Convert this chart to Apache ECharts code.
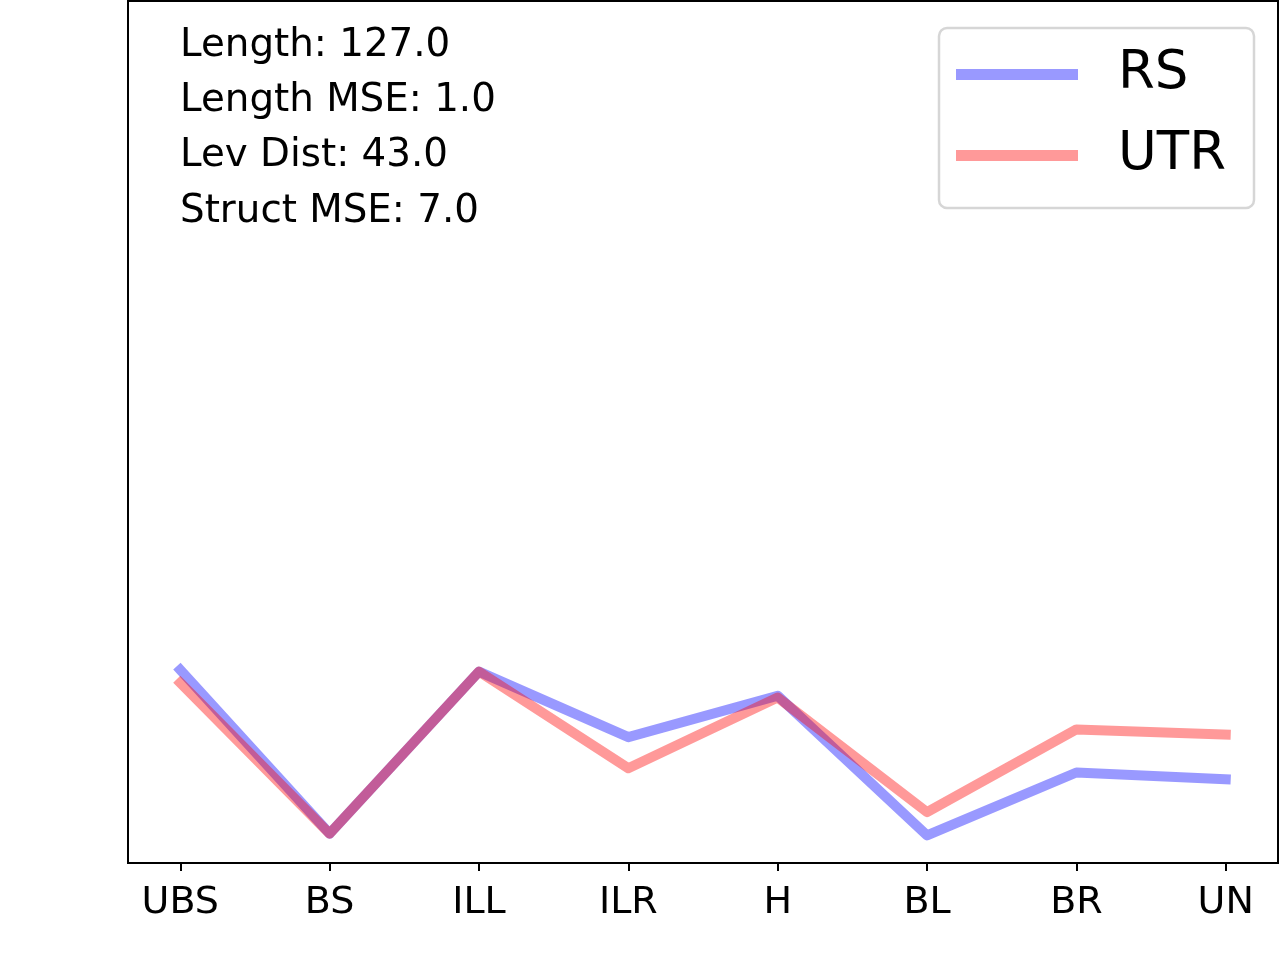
<!DOCTYPE html>
<html>
<head>
<meta charset="utf-8">
<script src="https://cdn.jsdelivr.net/npm/echarts@6/dist/echarts.min.js"></script>
<style>html,body{margin:0;padding:0;background:#fff}#c{width:1280px;height:960px}</style>
</head>
<body>
<div id="c"></div>
<script>
const categories = ['UBS', 'BS', 'ILL', 'ILR', 'H', 'BL', 'BR', 'UN'];
const rsValues = [22.4, 3.4, 22.2, 14.6, 19.4, 3.2, 10.5, 9.7];
const utrValues = [20.9, 3.4, 22.2, 11.0, 19.2, 5.9, 15.5, 14.9];
const annotationLines = ['Length: 127.0', 'Length MSE: 1.0', 'Lev Dist: 43.0', 'Struct MSE: 7.0'];
const seriesNames = ['RS', 'UTR'];

const FONT = 'DejaVu Sans';
const chart = echarts.init(document.getElementById('c'), null, {renderer: 'canvas'});
const toPts = vals => vals.map((v, i) => [i, v]);
const tickIdx = categories.map((_, i) => i);

chart.setOption({
  animation: false,
  backgroundColor: '#ffffff',
  title: {
    text: annotationLines.join('\n'),
    left: 180, top: 18, padding: 0,
    textStyle: {fontFamily: FONT, fontSize: 38.8, fontWeight: 'normal', color: '#000', lineHeight: 55.3}
  },
  legend: {
    orient: 'vertical',
    left: 939, top: 28,
    padding: [20, 28, 26, 17],
    itemWidth: 122, itemHeight: 11, itemGap: 28,
    icon: 'rect',
    borderColor: '#d6d6d6', borderWidth: 2.5, borderRadius: 8,
    backgroundColor: '#fff',
    textStyle: {fontFamily: FONT, fontSize: 53, lineHeight: 53, color: '#000', padding: [0, 0, 0, 35]},
    data: seriesNames
  },
  grid: {
    left: 128, right: 2, top: 1, bottom: 97,
    show: true, borderColor: '#000', borderWidth: 2, backgroundColor: 'transparent'
  },
  xAxis: {
    type: 'value', min: -0.35, max: 7.35,
    splitLine: {show: false},
    axisLine: {show: true, onZero: false, lineStyle: {color: '#000', width: 2}},
    axisTick: {show: true, length: 8, inside: false, lineStyle: {color: '#000', width: 2}, customValues: tickIdx},
    axisLabel: {
      customValues: tickIdx, margin: 21,
      fontFamily: FONT, fontSize: 38, color: '#000',
      formatter: v => categories[Math.round(v)] || ''
    }
  },
  yAxis: {
    type: 'value', min: 0, max: 100,
    splitLine: {show: false},
    axisLine: {show: false, onZero: false},
    axisTick: {show: false},
    axisLabel: {show: false}
  },
  series: [
    {
      name: seriesNames[0], type: 'line', data: toPts(rsValues), symbol: 'none',
      itemStyle: {color: 'rgba(0,0,255,0.4)'},
      lineStyle: {color: 'rgba(0,0,255,0.4)', width: 10, cap: 'square', join: 'round'}
    },
    {
      name: seriesNames[1], type: 'line', data: toPts(utrValues), symbol: 'none',
      itemStyle: {color: 'rgba(255,0,0,0.4)'},
      lineStyle: {color: 'rgba(255,0,0,0.4)', width: 10, cap: 'square', join: 'round'}
    }
  ]
});
</script>
</body>
</html>
